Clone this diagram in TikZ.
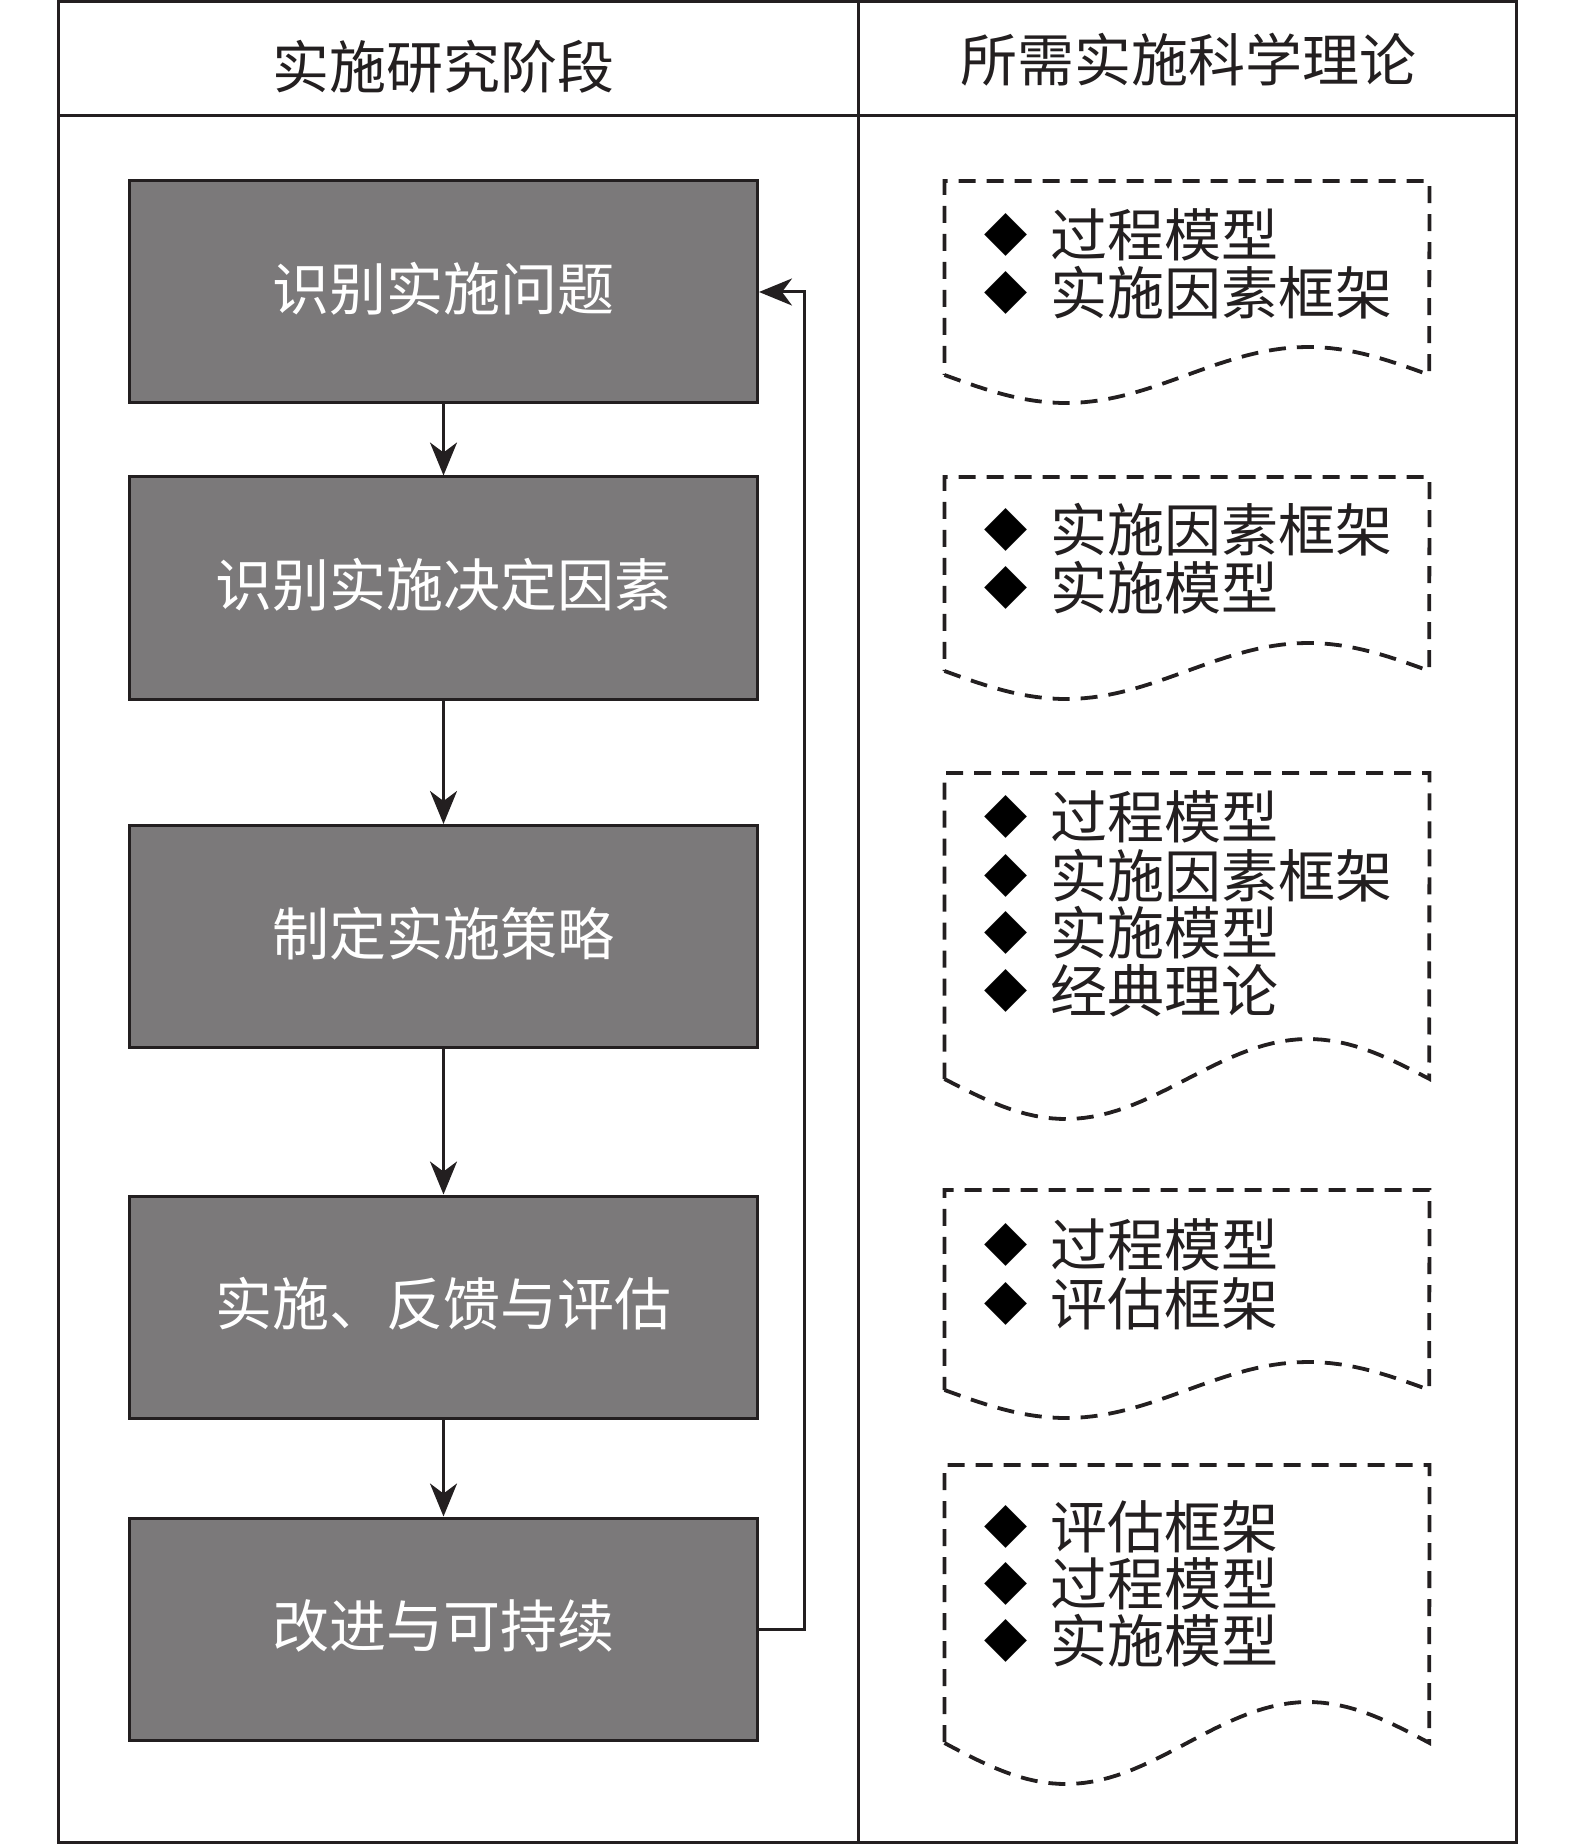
\documentclass[tikz,border=0pt]{standalone}
\usepackage{fontspec}
\newfontfamily\cjkfont{Noto Sans CJK SC}
\newfontfamily\symfont{DejaVu Sans}
\usetikzlibrary{arrows.meta}
\definecolor{ink}{HTML}{231F20}
\definecolor{boxgray}{HTML}{7B797A}
\newcommand\docshape[3]{%
  \draw[docline] plot[domain=0:1,samples=60] ({944.5+485*\x},{#2+#3*sin(360*\x)})
    -- (1429.5,#1) -- (944.5,#1) -- cycle;}
\begin{document}
\begin{tikzpicture}[x=0.5pt,y=-0.5pt,
  frame/.style={draw=ink, line width=1.5pt},
  stage/.style={draw=ink, line width=1.5pt, fill=boxgray, minimum width=314pt,
    minimum height=111pt, inner sep=0pt, text=white,
    text height=23.6pt, text depth=4.9pt,
    font=\cjkfont\fontsize{28.5pt}{34pt}\selectfont},
  head/.style={inner sep=0pt, text=ink, font=\cjkfont\fontsize{28.5pt}{34pt}\selectfont},
  item/.style={inner sep=0pt, anchor=west, text=ink, font=\cjkfont\fontsize{28.5pt}{34pt}\selectfont},
  bul/.style={inner sep=0pt, text=black, font=\symfont\fontsize{28pt}{32pt}\selectfont},
  arr/.style={draw=ink, line width=1.5pt, -{Stealth[length=16.5pt,width=13.5pt,inset=5pt]}},
  docline/.style={draw=ink, line width=1.9pt, dash pattern=on 8.5pt off 5.5pt}
]
\useasboundingbox (0,0) rectangle (1575,1845);
% frame
\draw[frame] (58,2) rectangle (1516,1842);
\draw[frame] (58,115.5) -- (1516,115.5);
\draw[frame] (858.5,2) -- (858.5,1842);
% headers
\node[head] (h1) at (443,67) {实施研究阶段};
\node[head] (h2) at (1188,60) {所需实施科学理论};
% stages
\node[stage] (b1) at (443.5,292) {识别实施问题};
\node[stage] (b2) at (443.5,588) {识别实施决定因素};
\node[stage] (b3) at (443.5,936.5) {制定实施策略};
\node[stage] (b4) at (443.5,1307) {实施、反馈与评估};
\node[stage] (b5) at (443.5,1629) {改进与可持续};
\draw[arr] (b1) -- (b2);
\draw[arr] (b2) -- (b3);
\draw[arr] (b3) -- (b4);
\draw[arr] (b4) -- (b5);
\coordinate (fb) at (804,1629);
\draw[arr] (b5.east) -- (fb) |- (b1.east);
% documents
\docshape{181}{375}{28}
\docshape{477}{671}{28}
\docshape{773}{1079}{40}
\docshape{1190}{1390}{28}
\docshape{1465}{1743}{41}
% doc 1
\node[bul] (p1a) at (1006.5,235) {◆};
\node[item] (t1a) at (1050,235) {过程模型};
\node[bul] (p1b) at (1006.5,293) {◆};
\node[item] (t1b) at (1050,293) {实施因素框架};
% doc 2
\node[bul] (p2a) at (1006.5,530) {◆};
\node[item] (t2a) at (1050,530) {实施因素框架};
\node[bul] (p2b) at (1006.5,588) {◆};
\node[item] (t2b) at (1050,588) {实施模型};
% doc 3
\node[bul] (p3a) at (1006.5,817) {◆};
\node[item] (t3a) at (1050,817) {过程模型};
\node[bul] (p3b) at (1006.5,876) {◆};
\node[item] (t3b) at (1050,876) {实施因素框架};
\node[bul] (p3c) at (1006.5,933) {◆};
\node[item] (t3c) at (1050,933) {实施模型};
\node[bul] (p3d) at (1006.5,991) {◆};
\node[item] (t3d) at (1050,991) {经典理论};
% doc 4
\node[bul] (p4a) at (1006.5,1245) {◆};
\node[item] (t4a) at (1050,1245) {过程模型};
\node[bul] (p4b) at (1006.5,1304) {◆};
\node[item] (t4b) at (1050,1304) {评估框架};
% doc 5
\node[bul] (p5a) at (1006.5,1527) {◆};
\node[item] (t5a) at (1050,1527) {评估框架};
\node[bul] (p5b) at (1006.5,1584) {◆};
\node[item] (t5b) at (1050,1584) {过程模型};
\node[bul] (p5c) at (1006.5,1641) {◆};
\node[item] (t5c) at (1050,1641) {实施模型};
\end{tikzpicture}
\end{document}
